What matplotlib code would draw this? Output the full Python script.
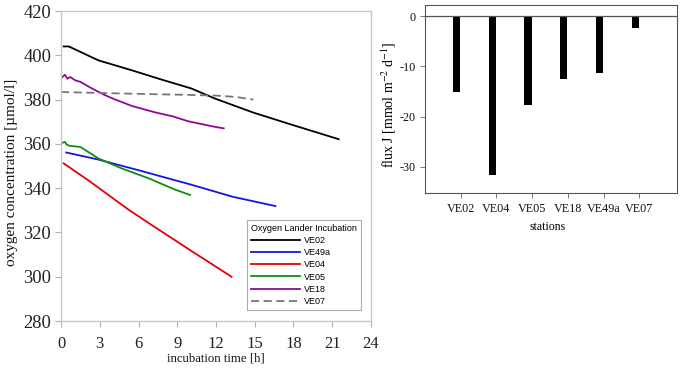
import matplotlib
matplotlib.use("Agg")
import matplotlib.pyplot as plt
import numpy as np

plt.rcParams['font.family'] = ['Liberation Serif', 'DejaVu Serif']
plt.rcParams['mathtext.fontset'] = 'stix'
plt.rcParams['axes.unicode_minus'] = False

# ---- left panel data (incubation time [h], oxygen [umol/l]) ----
t_ve02 = [0.2, 0.6, 2.9, 5.5, 7.8, 10.1, 11.9, 14.9, 18.0, 21.5]
o_ve02 = [404.0, 404.0, 397.7, 393.2, 389.0, 385.0, 380.5, 374.1, 368.4, 362.1]

t_ve49a = [0.4, 2.9, 6.0, 8.8, 10.0, 13.3, 16.6]
o_ve49a = [356.1, 352.9, 348.1, 343.6, 341.7, 336.1, 331.9]

t_ve04 = [0.2, 2.1, 5.2, 6.9, 10.0, 13.2]
o_ve04 = [351.2, 343.6, 330.4, 323.8, 312.0, 300.0]

t_ve05 = [0.0, 0.3, 0.45, 0.7, 1.5, 2.9, 4.7, 6.8, 8.8, 10.0]
o_ve05 = [360.2, 360.9, 359.6, 359.1, 358.6, 353.4, 348.9, 344.4, 339.4, 336.9]

t_ve18 = [0.1, 0.3, 0.5, 0.7, 1.1, 1.5, 2.4, 3.4, 4.2, 5.5, 7.3, 8.6, 9.85, 11.9, 12.6]
o_ve18 = [390.2, 391.2, 389.4, 390.2, 388.7, 388.0, 385.0, 382.0, 380.0, 377.1,
          374.2, 372.5, 370.2, 367.7, 367.0]

t_ve07 = [0.0, 5.0, 10.0, 12.0, 13.5, 14.9]
o_ve07 = [383.4, 382.7, 382.1, 381.8, 381.2, 380.0]

x_ticks_left = [0, 3, 6, 9, 12, 15, 18, 21, 24]
y_ticks_left = [280, 300, 320, 340, 360, 380, 400, 420]

# ---- right panel data ----
stations = ['VE02', 'VE04', 'VE05', 'VE18', 'VE49a', 'VE07']
flux = [-15.2, -31.6, -17.7, -12.5, -11.3, -2.4]
y_ticks_right = [-30, -20, -10, 0]

fig = plt.figure(figsize=(6.8, 3.7), dpi=100)

# ================= left panel =================
ax = fig.add_axes([61/680, 1-321/370, 310/680, 310/370])
lw = 1.3
ax.plot(t_ve02, o_ve02, color='black', lw=lw, label='VE02')
ax.plot(t_ve49a, o_ve49a, color='#1414e6', lw=lw, label='VE49a')
ax.plot(t_ve04, o_ve04, color='#e60000', lw=lw, label='VE04')
ax.plot(t_ve05, o_ve05, color='#0f8f0f', lw=lw, label='VE05')
ax.plot(t_ve18, o_ve18, color='#8e0a96', lw=lw, label='VE18')
ax.plot(t_ve07, o_ve07, color='#777777', lw=lw, ls=(0, (4.5, 2.5)), label='VE07')

ax.set_xlim(0, 24)
ax.set_ylim(280, 420)
ax.set_xticks(x_ticks_left)
ax.set_yticks(y_ticks_left)
for s in ax.spines.values():
    s.set_color('#c8c8c8')
    s.set_linewidth(1.0)
ax.tick_params(axis='both', direction='out', color='#b0b0b0', length=4, width=0.8,
               labelcolor='#222222')
ax.tick_params(axis='x', pad=7, labelsize=12)
ax.tick_params(axis='y', pad=3, labelsize=13.3)
ax.set_xlabel('incubation time [h]', fontsize=9.2, color='#111111')
ax.set_ylabel('oxygen concentration [µmol/l]', fontsize=11, color='#111111')
ax.xaxis.set_label_coords(0.5, -0.103)
ax.yaxis.set_label_coords(-0.14, 0.48)

leg = ax.legend(loc='lower left', bbox_to_anchor=(0.6, 0.035), borderaxespad=0,
                title='Oxygen Lander Incubation', alignment='left',
                prop={'family': 'Liberation Sans', 'size': 6.5},
                title_fontproperties={'family': 'Liberation Sans', 'size': 6.5},
                handlelength=5.4, handletextpad=0.5, labelspacing=0.36,
                fancybox=False, frameon=True, borderpad=0.45)
leg.get_frame().set_edgecolor('#999999')
leg.get_frame().set_linewidth(0.8)

# ================= right panel =================
ax2 = fig.add_axes([425/680, 1-193/370, 252/680, 188/370])
pos = np.arange(1, len(stations) + 1)
ax2.bar(pos - 0.12, flux, width=0.2, color='black')
ax2.axhline(0, color='#555555', lw=0.9)
ax2.set_xlim(0, 7.05)
ax2.set_ylim(-35.2, 2.2)
ax2.set_xticks(pos)
ax2.set_xticklabels(stations)
ax2.set_yticks(y_ticks_right)
for s in ax2.spines.values():
    s.set_color('#555555')
    s.set_linewidth(0.8)
ax2.tick_params(axis='both', direction='out', color='#777777', length=3.5, width=0.7,
                labelsize=8.7, labelcolor='#111111')
ax2.tick_params(axis='x', pad=4)
ax2.tick_params(axis='y', pad=3)
ax2.set_xlabel('stations', fontsize=8.5)
ax2.set_ylabel('flux J [mmol m$^{-2}$ d$^{-1}$]', fontsize=10)
ax2.xaxis.set_label_coords(0.488, -0.149)
ax2.yaxis.set_label_coords(-0.107, 0.47)

fig.savefig('out.png', dpi=100)
